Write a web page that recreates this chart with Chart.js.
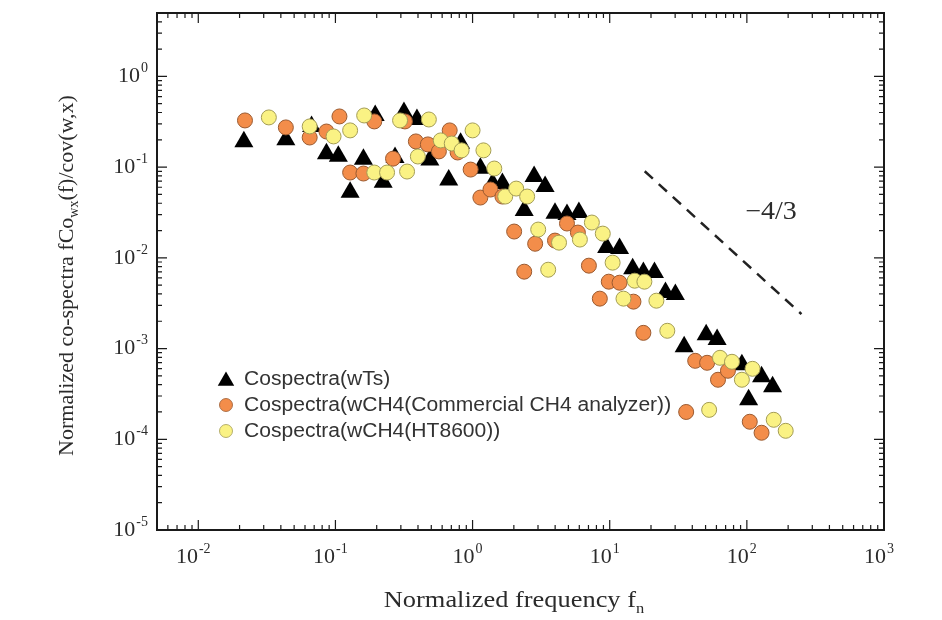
<!DOCTYPE html>
<html>
<head>
<meta charset="utf-8">
<script src="https://cdn.jsdelivr.net/npm/chart.js@4.4.0/dist/chart.umd.min.js"></script>
<style>
    html, body { margin: 0; padding: 0; background: #fff; }
    #wrap { width: 942px; height: 620px; position: relative; }
</style>
</head>
<body>
<div id="wrap"><canvas id="cospectra"></canvas></div>
<script>
// Data (normalized frequency, normalized co-spectra)
const wtsFreq = [0.0215, 0.0435, 0.067, 0.086, 0.105, 0.128, 0.16, 0.195, 0.223, 0.272, 0.316, 0.393, 0.488, 0.67, 0.818,
    1.14, 1.40, 1.65, 2.38, 2.81, 3.38, 3.99, 4.88, 5.96, 9.5, 11.8, 14.7, 17.6, 21.2, 25.5, 30.1, 34.9, 50.5, 60.7, 92, 103, 128, 154];
const wtsCosp = [0.19, 0.20, 0.28, 0.14, 0.132, 0.053, 0.122, 0.37, 0.068, 0.128, 0.40, 0.335, 0.12, 0.072, 0.183,
    0.097, 0.066, 0.066, 0.0333, 0.079, 0.061, 0.031, 0.030, 0.0316, 0.013, 0.0127, 0.0076, 0.0069, 0.0069, 0.00415, 0.00395,
    0.00105, 0.00142, 0.00126, 0.000665, 0.000273, 0.00049, 0.00038];

const commFreq = [0.0219, 0.0435, 0.0649, 0.086, 0.107, 0.128, 0.16, 0.192, 0.263, 0.321, 0.386, 0.472, 0.568, 0.681, 0.778,
    0.968, 1.14, 1.35, 1.65, 2.01, 2.38, 2.86, 3.99, 4.88, 5.86, 7.05, 8.47, 9.84, 11.8, 14.9, 17.6, 36.1, 42, 51.3, 61.6, 72.8, 105, 128];
const commCosp = [0.327, 0.274, 0.212, 0.247, 0.362, 0.0872, 0.085, 0.319, 0.124, 0.319, 0.192, 0.178, 0.149, 0.254, 0.145,
    0.094, 0.0462, 0.0566, 0.0474, 0.0195, 0.00704, 0.0143, 0.0155, 0.0239, 0.019, 0.0082, 0.00355, 0.00546, 0.00532, 0.00329,
    0.00149, 0.0002, 0.000733, 0.000697, 0.000453, 0.000569, 0.000156, 0.000118];

const htFreq = [0.0327, 0.0649, 0.0969, 0.128, 0.162, 0.192, 0.238, 0.296, 0.333, 0.399, 0.48, 0.586, 0.705, 0.832, 1.0,
    1.2, 1.44, 1.73, 2.08, 2.5, 3.01, 3.56, 4.27, 6.06, 7.41, 8.9, 10.5, 12.6, 15.2, 17.9, 21.9, 26.3, 53.1, 63.7, 77.9, 92, 110, 157, 192];
const htCosp = [0.353, 0.281, 0.218, 0.254, 0.371, 0.0872, 0.0872, 0.327, 0.0894, 0.131, 0.335, 0.197, 0.182, 0.153, 0.254,
    0.153, 0.0965, 0.0474, 0.058, 0.0474, 0.0205, 0.0074, 0.0147, 0.0159, 0.0245, 0.0185, 0.00885, 0.00355, 0.0056, 0.00546,
    0.00337, 0.00157, 0.000211, 0.000791, 0.000715, 0.000453, 0.000598, 0.000164, 0.000124];

// -4/3 reference slope (end points)
const slopeFreq = [18, 250];
const slopeCosp = [0.09, 0.0024];
const slopeLabel = '\u22124/3';
const slopeLabelAt = [150, 0.032];

// Axes
const xRange = [0.005, 1000];
const yRange = [1e-5, 5];
const xTickExps = ['-2', '-1', '0', '1', '2', '3'];
const yTickExps = ['-5', '-4', '-3', '-2', '-1', '0'];
const seriesLabels = ['Cospectra(wTs)', 'Cospectra(wCH4(Commercial CH4 analyzer))', 'Cospectra(wCH4(HT8600))'];

// Colors
const colors = {
    tri: '#000000',
    orange: '#f38d4a',
    orangeEdge: '#9a5a30',
    yellow: '#faf284',
    yellowEdge: '#a39c55',
    text: '#2b2b2b'
};
const serif = '"Liberation Serif", "Times New Roman", serif';
const sans = '"Liberation Sans", Arial, sans-serif';

const toPoints = (xs, ys) => xs.map((x, i) => ({ x: x, y: ys[i] }));

function logTicks(min, max) {
    const out = [];
    for (let d = Math.floor(Math.log10(min)); d <= Math.ceil(Math.log10(max)); d++) {
        for (let m = 1; m <= 9; m++) {
            const v = m * Math.pow(10, d);
            if (v >= min * 0.999 && v <= max * 1.001) out.push({ v: v, major: m === 1 });
        }
    }
    return out;
}

function drawSup(ctx, base, exp, x, y, align) {
    ctx.font = '22px ' + serif;
    const bw = ctx.measureText(base).width;
    ctx.font = '14px ' + serif;
    const ew = ctx.measureText(exp).width;
    const total = bw + ew + 1;
    const x0 = align === 'right' ? x - total : x - total / 2;
    ctx.textAlign = 'left';
    ctx.textBaseline = 'middle';
    ctx.font = '22px ' + serif;
    ctx.fillText(base, x0, y);
    ctx.font = '14px ' + serif;
    ctx.fillText(exp, x0 + bw + 1, y - 8);
}

// draws a run of [text, isSub] pieces centred at 0,0
function drawRuns(ctx, runs, size) {
    const sub = Math.round(size * 0.62);
    let total = 0;
    runs.forEach(r => {
        ctx.font = (r[1] ? sub : size) + 'px ' + serif;
        total += ctx.measureText(r[0]).width;
    });
    let x = -total / 2;
    ctx.textAlign = 'left';
    ctx.textBaseline = 'middle';
    runs.forEach(r => {
        ctx.font = (r[1] ? sub : size) + 'px ' + serif;
        ctx.fillText(r[0], x, r[1] ? size * 0.32 : 0);
        x += ctx.measureText(r[0]).width;
    });
}

function triangle(ctx, x, y, r) {
    ctx.beginPath();
    ctx.moveTo(x, y - r);
    ctx.lineTo(x + r * 0.866, y + r / 2);
    ctx.lineTo(x - r * 0.866, y + r / 2);
    ctx.closePath();
    ctx.fill();
}

const framePlugin = {
    id: 'frame',
    afterDraw(chart) {
        const ctx = chart.ctx;
        const a = chart.chartArea;
        const xs = chart.scales.x;
        const ys = chart.scales.y;
        ctx.save();

        // box
        ctx.strokeStyle = '#1a1a1a';
        ctx.lineWidth = 2;
        ctx.strokeRect(a.left, a.top, a.right - a.left, a.bottom - a.top);

        // inward ticks on all sides
        ctx.lineWidth = 1.2;
        ctx.beginPath();
        logTicks(xRange[0], xRange[1]).forEach(t => {
            const p = xs.getPixelForValue(t.v);
            const len = t.major ? 10 : 5;
            ctx.moveTo(p, a.bottom); ctx.lineTo(p, a.bottom - len);
            ctx.moveTo(p, a.top); ctx.lineTo(p, a.top + len);
        });
        logTicks(yRange[0], yRange[1]).forEach(t => {
            const p = ys.getPixelForValue(t.v);
            const len = t.major ? 10 : 5;
            ctx.moveTo(a.left, p); ctx.lineTo(a.left + len, p);
            ctx.moveTo(a.right, p); ctx.lineTo(a.right - len, p);
        });
        ctx.stroke();

        // tick labels
        ctx.fillStyle = colors.text;
        xTickExps.forEach(e => {
            drawSup(ctx, '10', e, xs.getPixelForValue(Math.pow(10, +e)) - 5, a.bottom + 27, 'center');
        });
        yTickExps.forEach(e => {
            drawSup(ctx, '10', e, a.left - 9, ys.getPixelForValue(Math.pow(10, +e)), 'right');
        });

        // axis titles
        ctx.save();
        ctx.translate(514, a.bottom + 71);
        ctx.scale(1.1, 1);
        drawRuns(ctx, [['Normalized frequency f', false], ['n', true]], 24);
        ctx.restore();

        ctx.save();
        ctx.translate(67, (a.top + a.bottom) / 2 + 4);
        ctx.rotate(-Math.PI / 2);
        drawRuns(ctx, [['Normalized co-spectra fCo', false], ['wx', true], ['(f)/cov(w,x)', false]], 22);
        ctx.restore();

        // slope annotation
        ctx.save();
        ctx.translate(xs.getPixelForValue(slopeLabelAt[0]), ys.getPixelForValue(slopeLabelAt[1]));
        ctx.scale(1.12, 1);
        ctx.font = '25px ' + serif;
        ctx.textAlign = 'center';
        ctx.textBaseline = 'middle';
        ctx.fillText(slopeLabel, 0, 0);
        ctx.restore();

        // legend inside the plot
        const lx = a.left + 69;
        const ly = a.top + 366;
        const gap = 26;
        ctx.fillStyle = colors.tri;
        triangle(ctx, lx, ly + 2, 9.5);
        ctx.lineWidth = 0.8;
        ctx.fillStyle = colors.orange;
        ctx.strokeStyle = colors.orangeEdge;
        ctx.beginPath(); ctx.arc(lx, ly + gap, 6.5, 0, Math.PI * 2); ctx.fill(); ctx.stroke();
        ctx.fillStyle = colors.yellow;
        ctx.strokeStyle = colors.yellowEdge;
        ctx.beginPath(); ctx.arc(lx, ly + gap * 2, 6.5, 0, Math.PI * 2); ctx.fill(); ctx.stroke();

        ctx.fillStyle = '#333';
        ctx.font = '19.5px ' + sans;
        ctx.textAlign = 'left';
        ctx.textBaseline = 'middle';
        seriesLabels.forEach((s, i) => {
            ctx.save();
            ctx.translate(lx + 18, ly + gap * i + 1);
            ctx.scale(1.08, 1);
            ctx.fillText(s, 0, 0);
            ctx.restore();
        });

        ctx.restore();
    }
};

let cospectraChart = null;

function setupChart() {
    const c = document.getElementById('cospectra').getContext('2d');
    cospectraChart = new Chart(c, {
        type: 'scatter',
        data: {
            datasets: [
                {
                    label: seriesLabels[2],
                    data: toPoints(htFreq, htCosp),
                    pointStyle: 'circle',
                    pointRadius: 7.5,
                    backgroundColor: colors.yellow,
                    borderColor: colors.yellowEdge,
                    borderWidth: 1,
                    order: 1
                },
                {
                    label: seriesLabels[1],
                    data: toPoints(commFreq, commCosp),
                    pointStyle: 'circle',
                    pointRadius: 7.5,
                    backgroundColor: colors.orange,
                    borderColor: colors.orangeEdge,
                    borderWidth: 1,
                    order: 2
                },
                {
                    label: seriesLabels[0],
                    data: toPoints(wtsFreq, wtsCosp),
                    pointStyle: 'triangle',
                    pointRadius: 11,
                    backgroundColor: colors.tri,
                    borderColor: colors.tri,
                    borderWidth: 0,
                    order: 3
                },
                {
                    type: 'line',
                    label: 'slope',
                    data: toPoints(slopeFreq, slopeCosp),
                    borderColor: '#222',
                    borderWidth: 2.5,
                    borderDash: [11, 8],
                    pointRadius: 0,
                    fill: false,
                    order: 0
                }
            ]
        },
        options: {
            responsive: true,
            maintainAspectRatio: false,
            animation: false,
            layout: {
                padding: { left: 157, right: 58, top: 13, bottom: 90 }
            },
            plugins: {
                legend: { display: false },
                tooltip: { enabled: false }
            },
            scales: {
                x: {
                    type: 'logarithmic',
                    min: xRange[0],
                    max: xRange[1],
                    ticks: { display: false },
                    grid: { display: false },
                    border: { display: false },
                    afterFit: (s) => { s.height = 0; }
                },
                y: {
                    type: 'logarithmic',
                    min: yRange[0],
                    max: yRange[1],
                    ticks: { display: false },
                    grid: { display: false },
                    border: { display: false },
                    afterFit: (s) => { s.width = 0; }
                }
            }
        },
        plugins: [framePlugin]
    });
}

setupChart();
</script>
</body>
</html>
